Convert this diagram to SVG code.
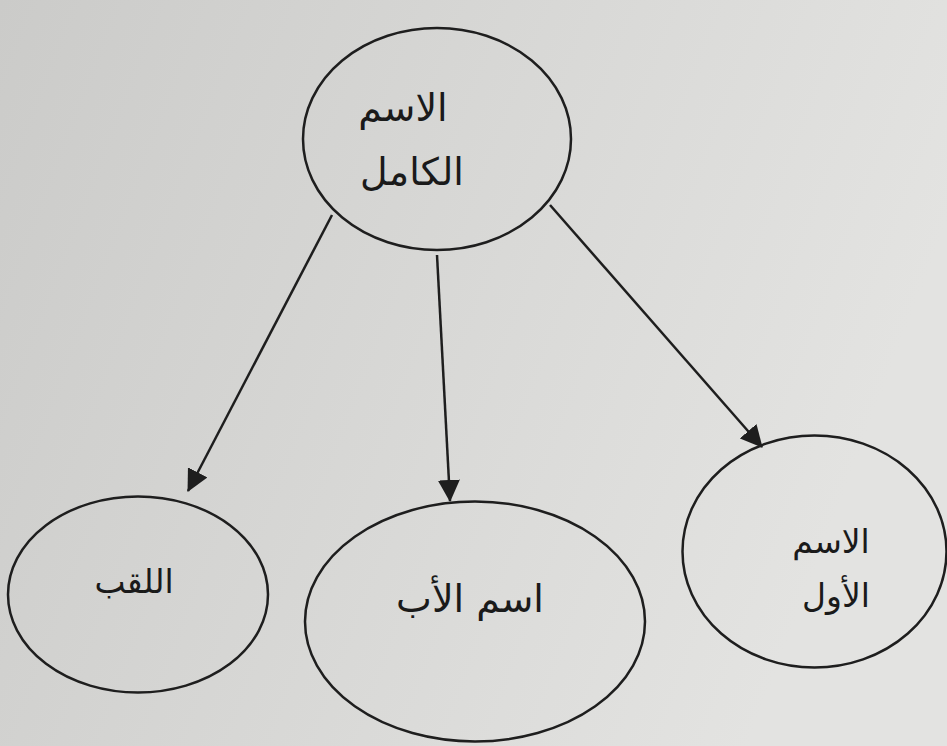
<svg xmlns="http://www.w3.org/2000/svg" width="947" height="746" viewBox="0 0 947 746">
<style>
.node ellipse{fill:none;stroke:#1e1e1e;stroke-width:2.5}
.lbl{font-family:"DejaVu Sans",sans-serif;font-size:38px;fill:#1a1a1a;text-anchor:middle}
.sm{font-size:33px}
.edge{stroke:#1e1e1e;stroke-width:2.5;fill:none;marker-end:url(#ah)}
</style>
<defs>
<linearGradient id="bg" x1="0" y1="0" x2="1" y2="0.3">
<stop offset="0" stop-color="#cbcbc9"/>
<stop offset="0.5" stop-color="#d7d7d5"/>
<stop offset="1" stop-color="#e3e3e1"/>
</linearGradient>
<marker id="ah" viewBox="0 0 22 22" refX="21" refY="11" markerWidth="22" markerHeight="22" orient="auto" markerUnits="userSpaceOnUse">
<path d="M0,0 L22,11 L0,22 Z" fill="#1e1e1e"/>
</marker>
</defs>
<rect width="947" height="746" fill="url(#bg)"/>
<g id="connectors">
<line class="edge" x1="332" y1="215" x2="188" y2="491"/>
<line class="edge" x1="437" y1="255" x2="450" y2="501"/>
<line class="edge" x1="550" y1="205" x2="762" y2="447"/>
</g>
<g id="full-name" class="node">
<ellipse cx="437" cy="139" rx="134" ry="111"/>
<text class="lbl" x="403" y="121">الاسم</text>
<text class="lbl" x="412" y="185">الكامل</text>
</g>
<g id="surname" class="node">
<ellipse cx="138" cy="594.5" rx="130" ry="98"/>
<text class="lbl sm" x="134" y="593">اللقب</text>
</g>
<g id="father-name" class="node">
<ellipse cx="475" cy="621.5" rx="170" ry="120"/>
<text class="lbl" x="470" y="612">اسم الأب</text>
</g>
<g id="first-name" class="node">
<ellipse cx="814.5" cy="551.5" rx="132" ry="116"/>
<text class="lbl sm" x="831" y="553">الاسم</text>
<text class="lbl sm" x="836" y="607">الأول</text>
</g>
</svg>
